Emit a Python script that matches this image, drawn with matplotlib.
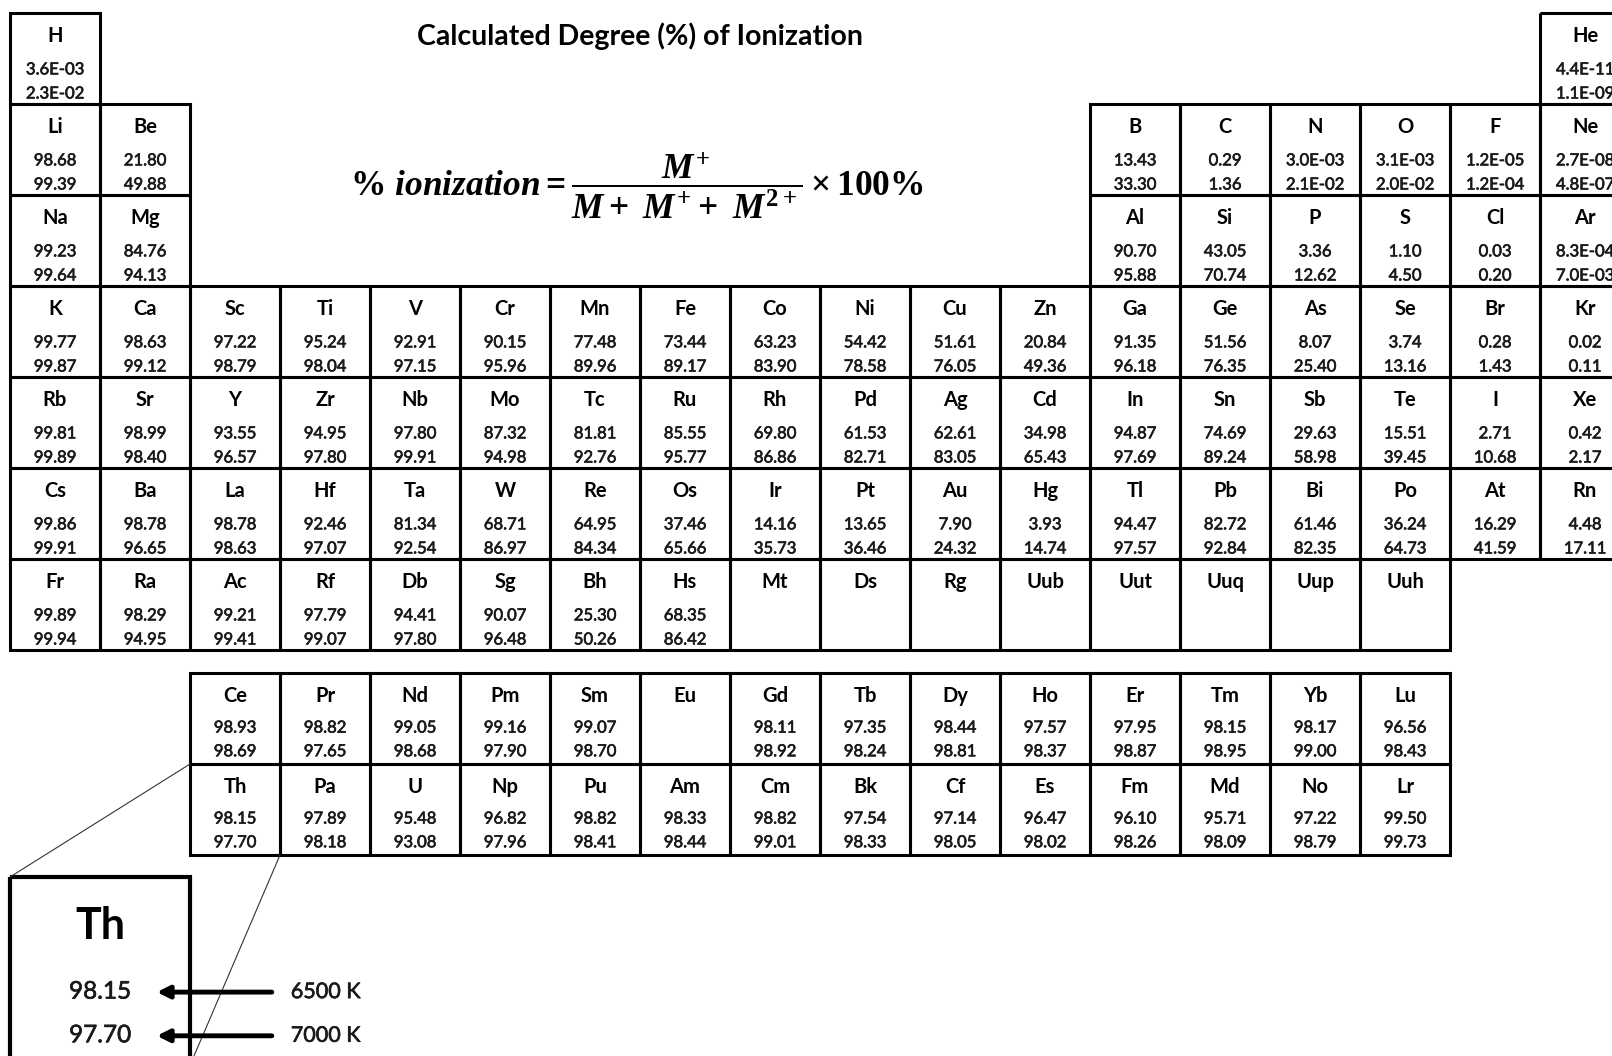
import matplotlib.pyplot as plt
import matplotlib.patheffects as pe
from matplotlib.patches import Rectangle

# ---- data: ionization degree (%) at 6500 K (first) and 7000 K (second) ----
# kept as the strings printed in the table (mixed fixed / scientific format)
row0_sym = ['H', 'He']
row0_t1 = ['3.6E-03', '4.4E-11']
row0_t2 = ['2.3E-02', '1.1E-09']

row1_sym = ['Li', 'Be', 'B', 'C', 'N', 'O', 'F', 'Ne']
row1_t1 = ['98.68', '21.80', '13.43', '0.29', '3.0E-03', '3.1E-03', '1.2E-05', '2.7E-08']
row1_t2 = ['99.39', '49.88', '33.30', '1.36', '2.1E-02', '2.0E-02', '1.2E-04', '4.8E-07']

row2_sym = ['Na', 'Mg', 'Al', 'Si', 'P', 'S', 'Cl', 'Ar']
row2_t1 = ['99.23', '84.76', '90.70', '43.05', '3.36', '1.10', '0.03', '8.3E-04']
row2_t2 = ['99.64', '94.13', '95.88', '70.74', '12.62', '4.50', '0.20', '7.0E-03']

row3_sym = ['K', 'Ca', 'Sc', 'Ti', 'V', 'Cr', 'Mn', 'Fe', 'Co', 'Ni', 'Cu', 'Zn',
            'Ga', 'Ge', 'As', 'Se', 'Br', 'Kr']
row3_t1 = ['99.77', '98.63', '97.22', '95.24', '92.91', '90.15', '77.48', '73.44', '63.23',
           '54.42', '51.61', '20.84', '91.35', '51.56', '8.07', '3.74', '0.28', '0.02']
row3_t2 = ['99.87', '99.12', '98.79', '98.04', '97.15', '95.96', '89.96', '89.17', '83.90',
           '78.58', '76.05', '49.36', '96.18', '76.35', '25.40', '13.16', '1.43', '0.11']

row4_sym = ['Rb', 'Sr', 'Y', 'Zr', 'Nb', 'Mo', 'Tc', 'Ru', 'Rh', 'Pd', 'Ag', 'Cd',
            'In', 'Sn', 'Sb', 'Te', 'I', 'Xe']
row4_t1 = ['99.81', '98.99', '93.55', '94.95', '97.80', '87.32', '81.81', '85.55', '69.80',
           '61.53', '62.61', '34.98', '94.87', '74.69', '29.63', '15.51', '2.71', '0.42']
row4_t2 = ['99.89', '98.40', '96.57', '97.80', '99.91', '94.98', '92.76', '95.77', '86.86',
           '82.71', '83.05', '65.43', '97.69', '89.24', '58.98', '39.45', '10.68', '2.17']

row5_sym = ['Cs', 'Ba', 'La', 'Hf', 'Ta', 'W', 'Re', 'Os', 'Ir', 'Pt', 'Au', 'Hg',
            'Tl', 'Pb', 'Bi', 'Po', 'At', 'Rn']
row5_t1 = ['99.86', '98.78', '98.78', '92.46', '81.34', '68.71', '64.95', '37.46', '14.16',
           '13.65', '7.90', '3.93', '94.47', '82.72', '61.46', '36.24', '16.29', '4.48']
row5_t2 = ['99.91', '96.65', '98.63', '97.07', '92.54', '86.97', '84.34', '65.66', '35.73',
           '36.46', '24.32', '14.74', '97.57', '92.84', '82.35', '64.73', '41.59', '17.11']

row6_sym = ['Fr', 'Ra', 'Ac', 'Rf', 'Db', 'Sg', 'Bh', 'Hs', 'Mt', 'Ds', 'Rg', 'Uub',
            'Uut', 'Uuq', 'Uup', 'Uuh']
row6_t1 = ['99.89', '98.29', '99.21', '97.79', '94.41', '90.07', '25.30', '68.35',
           '', '', '', '', '', '', '', '']
row6_t2 = ['99.94', '94.95', '99.41', '99.07', '97.80', '96.48', '50.26', '86.42',
           '', '', '', '', '', '', '', '']

lan_sym = ['Ce', 'Pr', 'Nd', 'Pm', 'Sm', 'Eu', 'Gd', 'Tb', 'Dy', 'Ho', 'Er', 'Tm', 'Yb', 'Lu']
lan_t1 = ['98.93', '98.82', '99.05', '99.16', '99.07', '', '98.11', '97.35', '98.44',
          '97.57', '97.95', '98.15', '98.17', '96.56']
lan_t2 = ['98.69', '97.65', '98.68', '97.90', '98.70', '', '98.92', '98.24', '98.81',
          '98.37', '98.87', '98.95', '99.00', '98.43']

act_sym = ['Th', 'Pa', 'U', 'Np', 'Pu', 'Am', 'Cm', 'Bk', 'Cf', 'Es', 'Fm', 'Md', 'No', 'Lr']
act_t1 = ['98.15', '97.89', '95.48', '96.82', '98.82', '98.33', '98.82', '97.54', '97.14',
          '96.47', '96.10', '95.71', '97.22', '99.50']
act_t2 = ['97.70', '98.18', '93.08', '97.96', '98.41', '98.44', '99.01', '98.33', '98.05',
          '98.02', '98.26', '98.09', '98.79', '99.73']

temps = ['6500 K', '7000 K']

# ---- layout (grid units: 1 column / 1 row per cell) ----
FONT = 'Lato'
plt.rcParams['mathtext.fontset'] = 'custom'
plt.rcParams['mathtext.it'] = 'Liberation Serif:italic:bold'
plt.rcParams['mathtext.rm'] = 'Liberation Serif:bold'
plt.rcParams['mathtext.bf'] = 'Liberation Serif:bold'

fig = plt.figure(figsize=(16.12, 10.56), dpi=100)
ax = fig.add_axes([0, 0, 1, 1])
ax.set_xlim(-10 / 90, (1612 - 10) / 90)
ax.set_ylim((1056 - 12.5) / 91, -12.5 / 91)
ax.axis('off')

thick = [pe.withStroke(linewidth=0.45, foreground='#1a1a1a')]


def draw_cell(col, row, sym, v1, v2, fblock=False):
    ax.add_patch(Rectangle((col, row), 1, 1, fill=False, lw=2.2, ec='black'))
    ax.text(col + 0.5, row + 0.32, sym, ha='center', va='baseline',
            fontsize=14.5, fontweight='bold', family=FONT)
    b1, b2 = (0.655, 0.915) if fblock else (0.68, 0.945)
    for txt, b in ((v1, b1), (v2, b2)):
        if txt:
            ax.text(col + 0.5, row + b, txt, ha='center', va='baseline',
                    fontsize=12, family=FONT, color='#1a1a1a', path_effects=thick)


main_rows = [
    (row0_sym, row0_t1, row0_t2, [0, 17]),
    (row1_sym, row1_t1, row1_t2, [0, 1] + list(range(12, 18))),
    (row2_sym, row2_t1, row2_t2, [0, 1] + list(range(12, 18))),
    (row3_sym, row3_t1, row3_t2, list(range(18))),
    (row4_sym, row4_t1, row4_t2, list(range(18))),
    (row5_sym, row5_t1, row5_t2, list(range(18))),
    (row6_sym, row6_t1, row6_t2, list(range(16))),
]
for r, (syms, t1, t2, cols) in enumerate(main_rows):
    for c, s, a, b in zip(cols, syms, t1, t2):
        draw_cell(c, r, s, a, b)

f_top = (673 - 12.5) / 91
for k, (syms, t1, t2) in enumerate([(lan_sym, lan_t1, lan_t2), (act_sym, act_t1, act_t2)]):
    for i, (s, a, b) in enumerate(zip(syms, t1, t2)):
        draw_cell(2 + i, f_top + k, s, a, b, fblock=True)

# title and formula
ax.text(7.0, 0.26, 'Calculated Degree (%) of Ionization', ha='center', va='center',
        fontsize=20.5, fontweight='bold', family=FONT)
ax.text(6.96, 1.9,
        r'$\%\ ionization = \dfrac{M^{+}}{M +\ M^{+} +\ M^{2+}}\times 100\%$',
        ha='center', va='center', fontsize=25.5)

# legend inset (zoom of Th)
inset_top = (877 - 12.5) / 91
ax.add_patch(Rectangle((0, inset_top), 2, 3, fill=False, lw=3, ec='black'))
ax.plot([2, 0], [f_top + 1, inset_top], color='#333333', lw=0.8)
ax.plot([3, 2.03], [f_top + 2, inset_top + 2.0], color='#333333', lw=0.8)
ax.text(1.0, inset_top + 0.535, act_sym[0], ha='center', va='center',
        fontsize=31, fontweight='bold', family=FONT)
for j, (v, t) in enumerate(zip([act_t1[0], act_t2[0]], temps)):
    y = inset_top + 1.265 + 0.48 * j
    ax.text(1.0, y, v, ha='center', va='center', fontsize=17.5, family=FONT,
            color='#1a1a1a', path_effects=thick)
    ax.annotate('', xy=(1.6, y), xytext=(2.94, y),
                arrowprops=dict(arrowstyle='-|>', lw=3.5, color='black', mutation_scale=18))
    ax.text(3.12, y, t, ha='left', va='center', fontsize=15.5, family=FONT,
            color='#1a1a1a', path_effects=thick)

plt.savefig('out.png', dpi=100)
